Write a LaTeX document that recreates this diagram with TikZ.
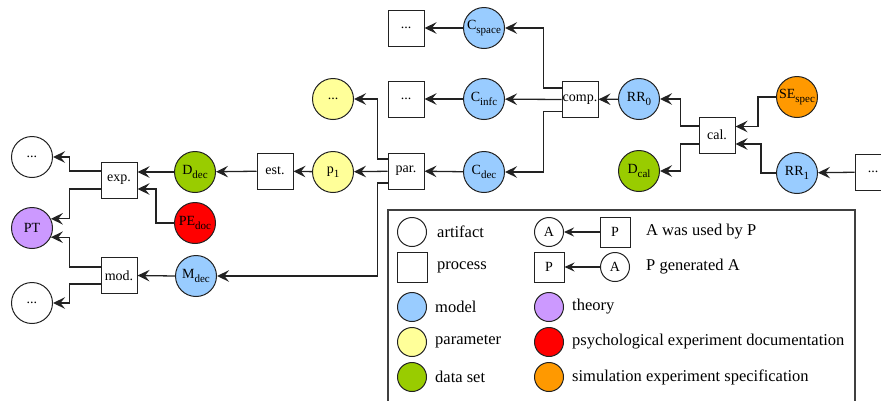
\documentclass[tikz,border=0pt]{standalone}
\usepackage{fontspec}
\setmainfont{Liberation Serif}
\usetikzlibrary{arrows.meta}
\newcommand\mysub[1]{\raisebox{-4pt}{\fontsize{11}{11}\selectfont #1}}
\definecolor{cmodel}{HTML}{99CCFF}
\definecolor{cparam}{HTML}{FFFF99}
\definecolor{cdata}{HTML}{99CC00}
\definecolor{ctheory}{HTML}{CC99FF}
\definecolor{cpsych}{HTML}{FF0000}
\definecolor{csim}{HTML}{FF9900}
\definecolor{cline}{HTML}{222222}
\tikzset{
  art/.style={circle, draw=cline, line width=1pt, minimum size=41pt, inner sep=0pt, fill=white, font=\fontsize{14}{14}\selectfont},
  proc/.style={rectangle, draw=cline, line width=1pt, minimum size=36pt, inner sep=0pt, fill=white, font=\fontsize{14}{14}\selectfont},
  model/.style={art, fill=cmodel},
  param/.style={art, fill=cparam},
  dataset/.style={art, fill=cdata},
  theory/.style={art, fill=ctheory},
  psych/.style={art, fill=cpsych},
  simspec/.style={art, fill=csim},
  conn/.style={draw=cline, line width=1.3pt, -{Stealth[length=12pt,width=11.5pt,inset=4.5pt]}},
  lconn/.style={draw=cline, line width=1.2pt, -{Stealth[length=10pt,width=9pt,inset=3.5pt]}},
  lart/.style={circle, draw=cline, line width=1pt, minimum size=29pt, inner sep=0pt, fill=white, font=\fontsize{14}{14}\selectfont},
  lproc/.style={rectangle, draw=cline, line width=1pt, minimum size=30pt, inner sep=0pt, fill=white, font=\fontsize{14}{14}\selectfont},
  ltext/.style={anchor=west, inner sep=0pt, font=\fontsize{16.5}{16.5}\selectfont},
}
\begin{document}
\begin{tikzpicture}[x=1pt, y=-1pt]
\useasboundingbox (0,0) rectangle (881,400);
\clip (0,0) rectangle (881,400);
% nodes
\node[art] (dotsA) at (32,157) {...};
\node[proc] (exp) at (119,180) {exp.};
\node[dataset] (Ddec) at (195,172) {D\mysub{dec}};
\node[psych] (PEdec) at (195,223) {PE\mysub{doc}};
\node[theory] (PT) at (32,228) {PT};
\node[proc] (mod) at (119,275.5) {mod.};
\node[model] (Mdec) at (196,276) {M\mysub{dec}};
\node[art] (dotsB) at (32,303) {...};
\node[proc] (est) at (275,171) {est.};
\node[param] (p1) at (333,172) {p\mysub{1}};
\node[proc] (par) at (406,171) {par.};
\node[param] (dotsY) at (333,99) {...};
\node[model] (Cdec) at (484,172) {C\mysub{dec}};
\node[model] (Cinfc) at (484,99) {C\mysub{infc}};
\node[proc] (dotsP2) at (406,99) {...};
\node[model] (Cspace) at (484,28) {C\mysub{space}};
\node[proc] (dotsP1) at (406,28) {...};
\node[proc] (comp) at (580,99.5) {comp.};
\node[model] (RR0) at (639,99) {RR\mysub{0}};
\node[proc] (cal) at (717,135) {cal.};
\node[dataset] (Dcal) at (639,171) {D\mysub{cal}};
\node[simspec] (SEspec) at (797,97) {SE\mysub{spec}};
\node[model] (RR1) at (797,173) {RR\mysub{1}};
\node[proc] (dotsP3) at (873,172) {...};
% connectors
\draw[conn] ([yshift=9pt]exp.west) -- ++(-31,0) |- (dotsA);
\draw[conn] ([yshift=-9pt]exp.west) -- ++(-31,0) |- (PT.26);
\draw[conn] ([yshift=8.5pt]mod.west) -- ++(-31,0) |- (PT.-26);
\draw[conn] ([yshift=-8.5pt]mod.west) -- ++(-31,0) |- (dotsB);
\draw[conn] (Ddec.west) -- ([yshift=8pt]exp.east);
\draw[conn] (PEdec.west) -- ++(-18,0) |- ([yshift=-9pt]exp.east);
\draw[conn] (Mdec.west) -- (mod.east);
\draw[conn] (est) -- (Ddec);
\draw[conn] (p1) -- (est);
\draw[conn] (par) -- (p1);
\draw[conn] ([yshift=12pt]par.west) -- ++(-10,0) |- (dotsY);
\draw[conn] ([yshift=-12pt]par.west) -- ++(-10,0) |- (Mdec);
\draw[conn] (Cdec) -- (par);
\draw[conn] (Cinfc) -- (dotsP2);
\draw[conn] (Cspace) -- (dotsP1);
\draw[conn] ([yshift=11.5pt]comp.west) -- ++(-18,0) |- (Cspace);
\draw[conn] (comp.west) -- (Cinfc);
\draw[conn] ([yshift=-12pt]comp.west) -- ++(-18,0) |- (Cdec);
\draw[conn] (RR0) -- (comp);
\draw[conn] ([yshift=9pt]cal.west) -- ++(-18,0) |- (RR0);
\draw[conn] ([yshift=-9pt]cal.west) -- ++(-18,0) |- (Dcal);
\draw[conn] (SEspec.west) -- ++(-18,0) |- ([yshift=8.5pt]cal.east);
\draw[conn] (RR1.west) -- ++(-15,0) |- ([yshift=-9pt]cal.east);
\draw[conn] (dotsP3) -- (RR1);
% legend
\draw[draw=black!75, line width=1.1pt] (388,210) rectangle (855,420);
\node[lart] (L1) at (412,232) {};
\node[ltext] (L1t) at (437,232) {artifact};
\node[lproc] (L2) at (412,267) {};
\node[ltext] (L2t) at (437,267) {process};
\node[lart, fill=cmodel] (L3) at (412,307) {};
\node[ltext] (L3t) at (435,307) {model};
\node[lart, fill=cparam] (L4) at (412,342) {};
\node[ltext] (L4t) at (435,342) {parameter};
\node[lart, fill=cdata] (L5) at (412,377) {};
\node[ltext] (L5t) at (435,377) {data set};
\node[lart] (LA1) at (549,232) {A};
\node[lproc] (LP1) at (615,232) {P};
\draw[lconn] (LP1) -- (LA1);
\node[ltext] (L6t) at (646,232) {A was used by P};
\node[lproc] (LP2) at (549,267) {P};
\node[lart] (LA2) at (615,267) {A};
\draw[lconn] (LA2) -- (LP2);
\node[ltext] (L7t) at (646,267) {P generated A};
\node[lart, fill=ctheory] (L8) at (549,307) {};
\node[ltext] (L8t) at (572,307) {theory};
\node[lart, fill=cpsych] (L9) at (549,342) {};
\node[ltext] (L9t) at (572,342) {psychological experiment documentation};
\node[lart, fill=csim] (L10) at (549,377) {};
\node[ltext] (L10t) at (572,377) {simulation experiment specification};
\end{tikzpicture}
\end{document}
